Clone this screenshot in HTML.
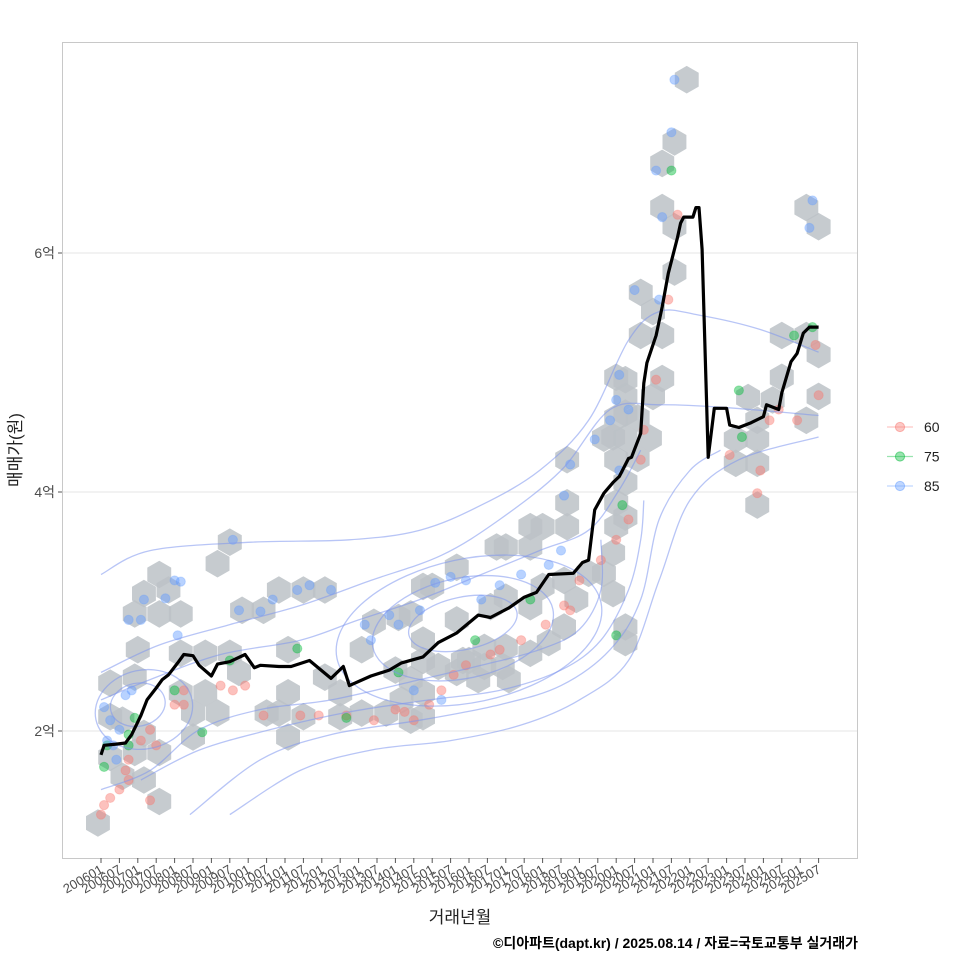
<!DOCTYPE html>
<html><head><meta charset="utf-8"><style>
html,body{margin:0;padding:0;background:#fff;}
svg{display:block;font-family:"Liberation Sans","Noto Sans CJK KR",sans-serif;}
</style></head><body>
<svg id="chart" width="960" height="960" viewBox="0 0 960 960" xmlns="http://www.w3.org/2000/svg">
<rect x="0" y="0" width="960" height="960" fill="#fff"/>
<g id="grid"></g>
<g id="hexes"></g>
<g id="points"></g>
<g id="contours"></g>
<g id="line"></g>
<rect x="62.5" y="42.5" width="795" height="816" fill="none" stroke="#c8c8c8"/>
<g id="yaxis"></g>
<g id="xaxis"></g>
<text transform="translate(21,450) rotate(-90)" text-anchor="middle" font-size="17" fill="#222">매매가(원)</text>
<text x="460" y="923" text-anchor="middle" font-size="17" fill="#222">거래년월</text>
<text x="858" y="948" text-anchor="end" font-size="14" font-weight="bold" fill="#000">©디아파트(dapt.kr) / 2025.08.14 / 자료=국토교통부 실거래가</text>
<g id="legend"></g>
</svg>
<script>
// ---- data ----
const lineMonths=[0,1,5,8,10,13,15,18,20,22,25,27,30,32,36,38,42,47,50,52,58,62,68,75,79,81,88,94,98,105,110,116,123,127,133,138,142,146,154,157,159,161,164,167,169,172,173,176,177,178,181,183,185,188,189,190,193,194,195,196,198,200,204,205,208,212,216,217,221,222,225,227,229,231,234];
const lineValues=[1.80,1.88,1.89,1.90,1.97,2.13,2.26,2.36,2.43,2.47,2.57,2.64,2.63,2.55,2.46,2.56,2.58,2.64,2.53,2.55,2.54,2.54,2.59,2.44,2.54,2.38,2.46,2.51,2.57,2.62,2.74,2.82,2.97,2.95,3.03,3.12,3.16,3.31,3.32,3.41,3.43,3.85,3.99,4.08,4.13,4.28,4.29,4.49,4.91,5.08,5.31,5.55,5.83,6.13,6.25,6.30,6.30,6.38,6.38,6.03,4.29,4.70,4.70,4.56,4.54,4.58,4.63,4.73,4.69,4.83,5.09,5.16,5.33,5.38,5.38];
const hexMonths=[-1,19,14,7,11,3,3,7,11,3,14,19,12,19,22,14,11,26,19,42,38,46,53,58,66,73,61,26,34,42,45,34,30,26,30,38,61,61,66,58,54,73,78,78,85,93,85,89,96,
152,167,171,171,152,144,140,152,132,129,140,116,105,108,159,164,167,167,168,171,171,97,101,105,116,127,132,140,144,151,155,151,146,132,125,120,116,110,105,101,105,98,105,101,125,131,133,140,123,118,
191,187,183,183,187,187,176,180,176,183,168,183,171,180,168,175,164,171,179,168,175,171,168,171,230,234,222,230,234,222,211,219,234,230,214,207,214,207,214,214];
const hexValues=[1.23,1.41,1.59,1.62,1.82,1.78,2.12,2.09,2.45,2.40,1.98,1.82,2.68,3.31,3.18,3.15,2.98,2.98,2.98,3.58,3.40,3.01,3.01,3.18,3.18,3.18,2.68,2.65,2.65,2.65,2.49,2.32,2.15,2.32,1.95,2.15,2.32,1.95,2.12,2.15,2.15,2.45,2.32,2.12,2.15,2.15,2.68,2.91,2.51,
4.27,4.46,4.66,4.94,3.91,3.71,3.71,3.71,3.54,3.54,3.54,3.37,3.21,3.21,3.32,3.32,3.49,3.15,3.71,2.87,2.74,2.95,2.98,2.76,2.93,3.04,3.12,3.04,3.21,3.26,3.10,2.87,2.74,2.70,2.70,2.59,2.49,2.54,2.59,2.43,2.32,2.26,2.12,2.09,2.54,2.54,2.43,2.65,2.43,2.59,
7.45,6.93,6.75,6.38,6.22,5.84,5.67,5.51,5.31,5.31,4.96,4.95,4.80,4.80,4.62,4.62,4.45,4.45,4.45,4.27,4.28,4.08,3.91,3.79,6.38,6.22,5.31,5.31,5.15,4.96,4.79,4.77,4.80,4.60,4.60,4.44,4.44,4.24,4.24,3.89];
const redMonths=[0,1,3,6,9,8,9,13,16,18,16,24,27,27,39,43,47,53,65,71,80,89,96,99,102,107,111,115,119,127,130,137,145,151,156,163,168,172,176,177,181,185,188,205,215,218,221,227,234,233,214,153];
const redValues=[1.30,1.38,1.44,1.51,1.59,1.67,1.76,1.92,2.01,1.88,1.42,2.22,2.22,2.34,2.38,2.34,2.38,2.13,2.13,2.13,2.13,2.09,2.18,2.16,2.09,2.22,2.34,2.47,2.55,2.64,2.68,2.76,2.89,3.05,3.26,3.43,3.60,3.77,4.27,4.52,4.94,5.61,6.32,4.31,4.18,4.60,4.69,4.60,4.81,5.23,3.99,3.01];
const greenMonths=[1,2,9,9,11,24,33,42,64,80,97,122,140,168,170,186,208,209,226,232];
const greenValues=[1.70,1.88,1.88,1.97,2.11,2.34,1.99,2.59,2.69,2.11,2.49,2.76,3.10,2.80,3.89,6.69,4.85,4.46,5.31,5.38];
const blueMonths=[1,3,2,4,5,6,8,10,9,13,14,21,24,26,25,45,43,52,56,64,68,75,86,88,94,97,104,109,114,119,124,130,137,146,150,153,151,161,166,168,169,169,172,174,182,186,181,187,183,232,231,111,102];
const blueValues=[2.20,2.09,1.92,1.88,1.76,2.01,2.30,2.34,2.93,2.93,3.10,3.11,3.26,3.25,2.80,3.01,3.60,3.00,3.10,3.18,3.22,3.18,2.89,2.76,2.97,2.89,3.01,3.24,3.29,3.26,3.10,3.22,3.31,3.39,3.51,4.23,3.97,4.44,4.60,4.77,4.98,4.18,4.69,5.69,5.61,7.01,6.69,7.45,6.30,6.44,6.21,2.26,2.34];
const contourMonths=[
[0,16,49,81,104,124,143,159,172,182,195,215,234],
[0,19,42,65,88,111,130,150,166,182,202,234],
[0,16,39,65,84,104,124,143,159,169,176],
[42,65,88,114,137,156,172,182,192,208,234],
[29,52,75,104,130,150,166,176,182,192,202],
[13,32,55,81,107,130,150,163,172,176,177],
[0,16,32,52,75,104,124,143,156,163,163]];
const contourValues=[
[3.31,3.51,3.58,3.60,3.68,3.89,4.18,4.60,5.27,5.51,5.48,5.36,5.17],
[2.49,2.72,2.89,3.05,3.26,3.47,3.77,4.18,4.69,4.73,4.71,4.64],
[2.26,2.43,2.64,2.76,2.93,3.10,3.31,3.51,3.68,4.02,4.35],
[1.30,1.67,1.84,1.92,2.05,2.26,2.59,3.26,3.93,4.27,4.46],
[1.30,1.76,1.97,2.09,2.22,2.38,2.68,3.10,3.77,4.18,4.35],
[1.59,1.84,2.01,2.16,2.26,2.34,2.51,2.76,3.18,3.60,3.93],
[1.51,1.67,2.01,2.18,2.26,2.43,2.55,2.68,2.85,3.18,3.60]];
const loopCenterMonths=[12,14,118,118,120];
const loopCenterValues=[2.22,2.18,2.90,2.86,2.84];
const loopRadiusMonths=[9,16,18,30,44];
const loopRadiusValues=[0.18,0.33,0.22,0.42,0.6];
const yTicks=[2,4,6];
const yTickLabels=["2억","4억","6억"];
const legendLabels=["60","75","85"];
const legendColors=["#F8766D","#00BA38","#619CFF"];

// ---- scales ----
const X0=101, XM=18.4/6, Y0=731, YU=119.5;
function xs(t){return X0+t*XM;}
function ys(v){return Y0-(v-2)*YU;}
const NS="http://www.w3.org/2000/svg";
function mk(tag,parent,attrs){const e=document.createElementNS(NS,tag);for(const k in attrs)e.setAttribute(k,attrs[k]);parent.appendChild(e);return e;}

// grid
const grid=document.getElementById('grid');
yTicks.forEach((v,i)=>{
  const l=mk('line',grid,{x1:62,x2:858,y1:ys(v),y2:ys(v),stroke:'#e6e6e6','stroke-width':1});
  
  
});

// hexes
const hg=document.getElementById('hexes');
const R=13.8;
hexMonths.forEach((t,i)=>{
  const cx=xs(t), cy=ys(hexValues[i]);
  let pts=[];
  for(let k=0;k<6;k++){const a=Math.PI/180*(60*k-90);pts.push((cx+R*Math.cos(a)).toFixed(1)+','+(cy+R*Math.sin(a)).toFixed(1));}
  const p=mk('polygon',hg,{points:pts.join(' '),fill:'#bcc2c7','fill-opacity':0.85});
  
  
});

// points
const pg=document.getElementById('points');
function drawPts(ms,vs,col,name){
  ms.forEach((t,i)=>{
    const c=mk('circle',pg,{cx:xs(t),cy:ys(vs[i]),r:4.6,fill:col,'fill-opacity':0.45,stroke:col,'stroke-opacity':0.3});
    
    
  });
}
drawPts(redMonths,redValues,'#F8766D','point-60');
drawPts(greenMonths,greenValues,'#00BA38','point-75');
drawPts(blueMonths,blueValues,'#619CFF','point-85');

// contours
const cg=document.getElementById('contours');
function smooth(P){
  let d='M'+P[0][0].toFixed(1)+','+P[0][1].toFixed(1);
  for(let i=0;i<P.length-1;i++){
    const p0=P[Math.max(i-1,0)],p1=P[i],p2=P[i+1],p3=P[Math.min(i+2,P.length-1)];
    const c1=[p1[0]+(p2[0]-p0[0])/6,p1[1]+(p2[1]-p0[1])/6];
    const c2=[p2[0]-(p3[0]-p1[0])/6,p2[1]-(p3[1]-p1[1])/6];
    d+=' C'+c1.map(n=>n.toFixed(1)).join(',')+' '+c2.map(n=>n.toFixed(1)).join(',')+' '+p2[0].toFixed(1)+','+p2[1].toFixed(1);
  }
  return d;
}
contourMonths.forEach((ms,j)=>{
  const P=ms.map((t,i)=>[xs(t),ys(contourValues[j][i])]);
  const p=mk('path',cg,{d:smooth(P),fill:'none',stroke:'#7d95ee','stroke-opacity':0.55,'stroke-width':1.3});
  
  
});
loopCenterMonths.forEach((t,i)=>{
  const e=mk('ellipse',cg,{cx:xs(t),cy:ys(loopCenterValues[i]),rx:loopRadiusMonths[i]*XM,ry:loopRadiusValues[i]*YU,fill:'none',stroke:'#7d95ee','stroke-opacity':0.55,'stroke-width':1.3,transform:'rotate(-12 '+xs(t)+' '+ys(loopCenterValues[i])+')'});
  
  
});

// median line
const lg=document.getElementById('line');
const ld=lineMonths.map((t,i)=>(i?'L':'M')+xs(t).toFixed(1)+','+ys(lineValues[i]).toFixed(1)).join(' ');
const ml=mk('path',lg,{d:ld,fill:'none',stroke:'#000','stroke-width':3.2,'stroke-linejoin':'round'});



// y axis
const ya=document.getElementById('yaxis');
yTicks.forEach((v,i)=>{
  const tk=mk('line',ya,{x1:58,x2:62,y1:ys(v),y2:ys(v),stroke:'#555'});
  
  
  const tx=mk('text',ya,{x:55,y:ys(v)+5,'text-anchor':'end','font-size':14,fill:'#4d4d4d'});
  tx.textContent=yTickLabels[i];
  
  
});

// x axis
const xa=document.getElementById('xaxis');
for(let k=0;k<=39;k++){
  const t=k*6, x=xs(t);
  const yr=2006+Math.floor(k/2), mo=(k%2)?'07':'01';
  const tk=mk('line',xa,{x1:x,x2:x,y1:858,y2:863,stroke:'#555'});
  
  
  const tx=mk('text',xa,{x:x+3,y:872,'text-anchor':'end','font-size':13,fill:'#4d4d4d',transform:'rotate(-30 '+(x+3)+' 872)'});
  tx.textContent=''+yr+mo;
  
  
}

// legend
const lgd=document.getElementById('legend');
legendLabels.forEach((lab,i)=>{
  const y=427+i*29.5;
  const g=mk('g',lgd,{});
  
  
  mk('line',g,{x1:887,x2:913,y1:y,y2:y,stroke:legendColors[i],'stroke-opacity':0.4,'stroke-width':1.3});
  mk('circle',g,{cx:900,cy:y,r:4.6,fill:legendColors[i],'fill-opacity':0.4,stroke:legendColors[i],'stroke-opacity':0.5});
  const tx=mk('text',g,{x:924,y:y+5,'font-size':14,fill:'#222'});
  tx.textContent=lab;
});
</script>
</body></html>
